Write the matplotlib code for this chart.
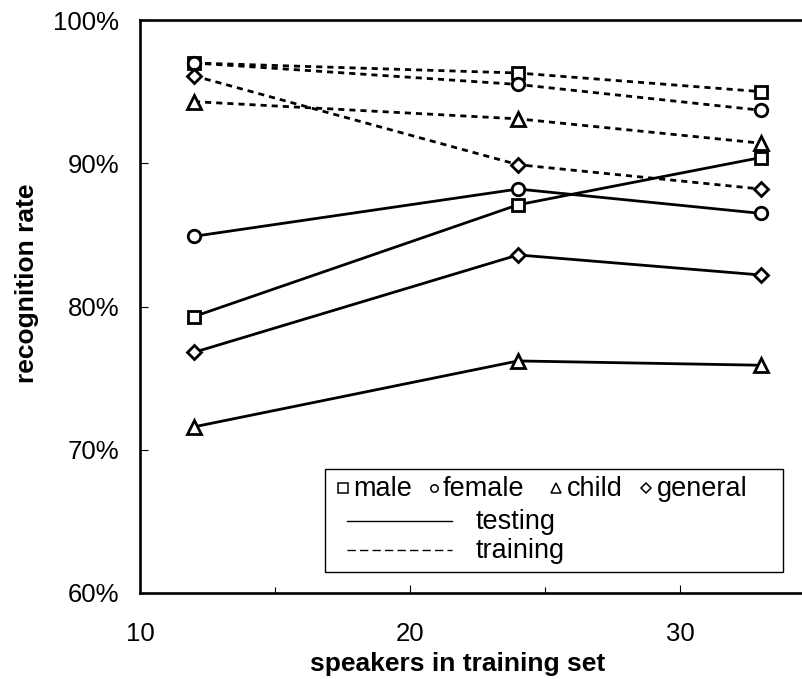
import matplotlib
matplotlib.use("Agg")
import matplotlib.pyplot as plt
from matplotlib.lines import Line2D
from matplotlib.patches import Rectangle
from matplotlib.ticker import FixedLocator, FuncFormatter

plt.rcParams['font.family'] = ['Liberation Sans', 'DejaVu Sans']

# Number of speakers in the training set
speakers = [12, 24, 33]

# Recognition rate (%) on the test data
test_male = [79.3, 87.1, 90.4]
test_female = [84.9, 88.2, 86.5]
test_child = [71.6, 76.2, 75.9]
test_general = [76.8, 83.6, 82.2]

# Recognition rate (%) on the training data
train_male = [97.0, 96.3, 95.0]
train_female = [97.0, 95.5, 93.7]
train_child = [94.3, 93.1, 91.4]
train_general = [96.1, 89.9, 88.2]

group_labels = ['male', 'female', 'child', 'general']
group_markers = ['s', 'o', '^', 'D']
group_sizes = [9.0, 9.0, 9.5, 7.0]

W, H = 803, 679


def fig_xy(px, py):
    '''Pixel position (from the top left) to figure fraction.'''
    return px / W, 1 - py / H


fig = plt.figure(figsize=(W / 100, H / 100), dpi=100)
ax = fig.add_axes([140 / W, 86 / H, 675 / W, 573 / H])

testing = [test_male, test_female, test_child, test_general]
training = [train_male, train_female, train_child, train_general]

for values, marker, size in zip(training, group_markers, group_sizes):
    ax.plot(speakers, values, color='black', linewidth=2.0,
            linestyle=(0, (2.2, 1.8)), marker=marker, markersize=size,
            markerfacecolor='white', markeredgecolor='black',
            markeredgewidth=2.0, clip_on=False)

for values, marker, size in zip(testing, group_markers, group_sizes):
    ax.plot(speakers, values, color='black', linewidth=2.0, linestyle='-',
            marker=marker, markersize=size, markerfacecolor='white',
            markeredgecolor='black', markeredgewidth=2.0, clip_on=False)

ax.set_xlim(10, 35)
ax.set_ylim(60, 100)
ax.xaxis.set_major_locator(FixedLocator([10, 20, 30]))
ax.xaxis.set_minor_locator(FixedLocator([15, 25]))
ax.yaxis.set_major_locator(FixedLocator([60, 70, 80, 90, 100]))
ax.yaxis.set_major_formatter(FuncFormatter(lambda v, pos: f'{v:.0f}%'))

for spine in ax.spines.values():
    spine.set_linewidth(1.9)

ax.tick_params(axis='x', which='major', direction='in', length=5.5, width=0.8,
               pad=21, labelsize=18.5)
ax.tick_params(axis='x', which='minor', direction='in', length=4.2, width=0.8)
ax.tick_params(axis='y', which='major', direction='in', length=6, width=0.8,
               pad=15, labelsize=18.5)

# Axis titles
fig.text(*fig_xy(458, 671), 'speakers in training set', fontsize=19,
         fontweight='bold', ha='center', va='baseline')
fig.text(*fig_xy(27, 283), 'recognition rate', fontsize=19,
         fontweight='bold', ha='center', va='center', rotation=90)

# Legend box
x0, y0 = fig_xy(325, 572)
x1, y1 = fig_xy(783, 469)
fig.add_artist(Rectangle((x0, y0), x1 - x0, y1 - y0, transform=fig.transFigure,
                         facecolor='white', edgecolor='black', linewidth=1.0))

key_x = [343, 434, 556, 646]
label_x = [353, 443, 567, 657]
key_sizes = [6.5, 5.3, 7.0, 5.0]
for kx, lx, marker, size, label in zip(key_x, label_x, group_markers,
                                       key_sizes, group_labels):
    mx, my = fig_xy(kx, 488)
    fig.add_artist(Line2D([mx], [my], transform=fig.transFigure, marker=marker,
                          markersize=size, markerfacecolor='white',
                          markeredgecolor='black', markeredgewidth=1.1))
    fig.text(*fig_xy(lx, 496), label, fontsize=19.5, ha='left', va='baseline')

for py, ty, style, label in [(521, 529, '-', 'testing'),
                             (550, 558, (0, (6, 3)), 'training')]:
    lx0, ly = fig_xy(347, py)
    lx1, _ = fig_xy(452, py)
    fig.add_artist(Line2D([lx0, lx1], [ly, ly], transform=fig.transFigure,
                          color='black', linewidth=1.0, linestyle=style))
    fig.text(*fig_xy(476, ty), label, fontsize=19.5, ha='left', va='baseline')

fig.savefig('out.png', dpi=100)
